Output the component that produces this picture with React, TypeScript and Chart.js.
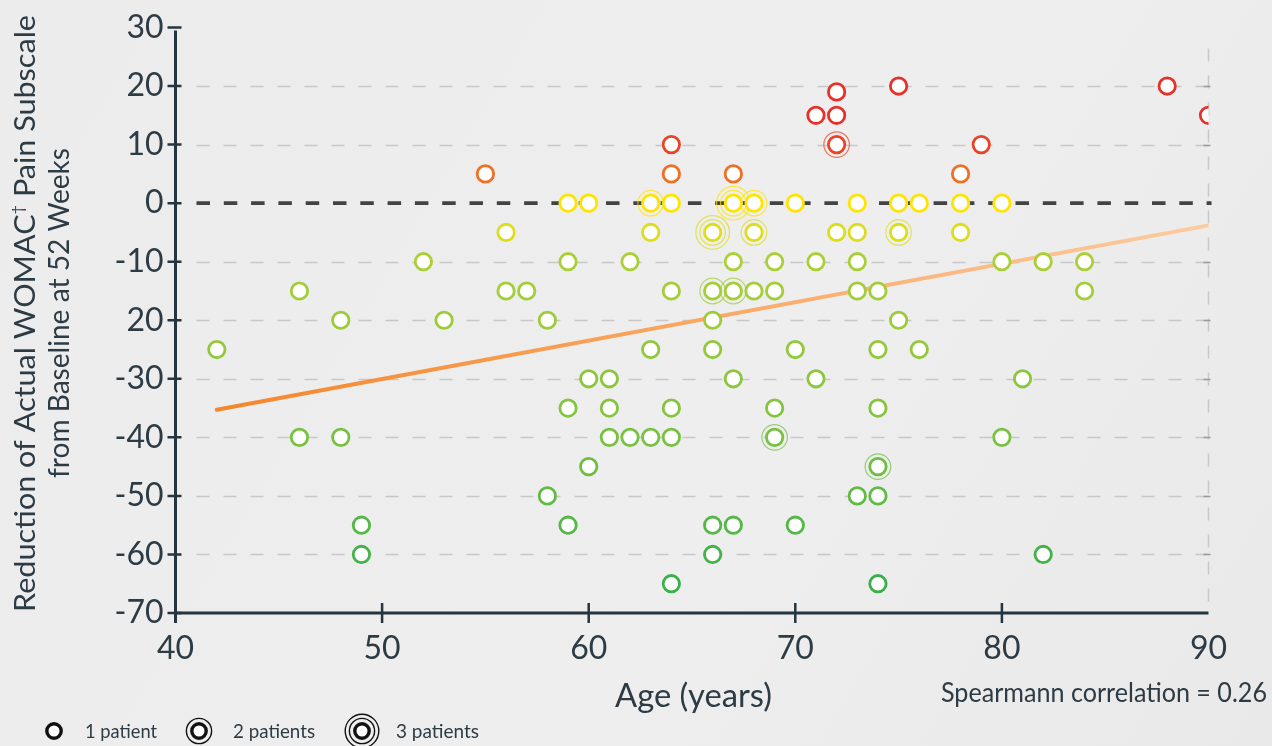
import React, { useEffect, useRef } from 'react';
import { Chart, registerables } from 'chart.js';

Chart.register(...registerables);

// ---------------- DATA ----------------
const xTickValues = [40, 50, 60, 70, 80, 90];
const yTickValues = [30, 20, 10, 0, -10, -20, -30, -40, -50, -60, -70];
const yTickLabels = ['30', '20', '10', '0', '-10', '20', '-30', '-40', '-50', '-60', '-70'];

// age (years) of each plotted marker
const ages = [
  55, 64, 64, 67, 71, 72, 72, 72, 75, 78, 79, 88, 90,
  59, 60, 63, 64, 67, 68, 70, 73, 75, 76, 78, 80,
  56, 63, 66, 68, 72, 73, 75, 78,
  52, 59, 62, 67, 69, 71, 73, 80, 82, 84,
  46, 56, 57, 64, 66, 67, 68, 69, 73, 74, 84,
  48, 53, 58, 66, 75,
  42, 63, 66, 70, 74, 76,
  60, 61, 67, 71, 81,
  59, 61, 64, 69, 74,
  46, 48, 61, 62, 63, 64, 69, 80,
  60, 74,
  58, 73, 74,
  49, 59, 66, 67, 70,
  49, 66, 82,
  64, 74,
];
// reduction of WOMAC pain subscale
const reductions = [
  5, 10, 5, 5, 15, 19, 15, 10, 20, 5, 10, 20, 15,
  0, 0, 0, 0, 0, 0, 0, 0, 0, 0, 0, 0,
  -5, -5, -5, -5, -5, -5, -5, -5,
  -10, -10, -10, -10, -10, -10, -10, -10, -10, -10,
  -15, -15, -15, -15, -15, -15, -15, -15, -15, -15, -15,
  -20, -20, -20, -20, -20,
  -25, -25, -25, -25, -25, -25,
  -30, -30, -30, -30, -30,
  -35, -35, -35, -35, -35,
  -40, -40, -40, -40, -40, -40, -40, -40,
  -45, -45,
  -50, -50, -50,
  -55, -55, -55, -55, -55,
  -60, -60, -60,
  -65, -65,
];
// number of patients at each marker
const patients = [
  1, 1, 1, 1, 1, 1, 1, 2, 1, 1, 1, 1, 1,
  1, 1, 2, 1, 3, 2, 1, 1, 1, 1, 1, 1,
  1, 1, 3, 2, 1, 1, 2, 1,
  1, 1, 1, 1, 1, 1, 1, 1, 1, 1,
  1, 1, 1, 1, 2, 2, 1, 1, 1, 1, 1,
  1, 1, 1, 1, 1,
  1, 1, 1, 1, 1, 1,
  1, 1, 1, 1, 1,
  1, 1, 1, 1, 1,
  1, 1, 1, 1, 1, 1, 2, 1,
  1, 2,
  1, 1, 1,
  1, 1, 1, 1, 1,
  1, 1, 1,
  1, 1,
];

const trendAges = [42, 90];
const trendValues = [-35.3, -3.8];

const spearmanText = 'Spearmann correlation = 0.26';
const legendLabels = ['1 patient', '2 patients', '3 patients'];

// ---------------- STYLE ----------------
const TEXT = '#2d3b45';
const AXIS = '#253540';
const FONT = 'Lato, "Open Sans", sans-serif';

const colorStops: [number, string][] = [
  [15, '#e8302a'],
  [10, '#ea4428'],
  [5, '#ef6f24'],
  [0, '#ffe400'],
  [-5, '#dcdd1c'],
  [-10, '#abcf38'],
  [-15, '#a3cd39'],
  [-20, '#9dcb3a'],
  [-25, '#93c83c'],
  [-30, '#8bc63e'],
  [-35, '#84c43f'],
  [-40, '#78c142'],
  [-45, '#6fbe43'],
  [-50, '#62bb45'],
  [-55, '#55b747'],
  [-60, '#45b249'],
  [-65, '#3aaf4a'],
];
function colorFor(v: number): string {
  for (const [t, c] of colorStops) if (v >= t) return c;
  return colorStops[colorStops.length - 1][1];
}
function hexA(hex: string, a: number) {
  const n = parseInt(hex.slice(1), 16);
  return `rgba(${(n >> 16) & 255},${(n >> 8) & 255},${n & 255},${a})`;
}

function fitText(ctx: CanvasRenderingContext2D, text: string, x: number, y: number, width: number, font: string, align: 'left' | 'center') {
  ctx.save();
  ctx.font = font;
  ctx.fillStyle = TEXT;
  ctx.textBaseline = 'alphabetic';
  ctx.textAlign = 'left';
  const w = ctx.measureText(text).width;
  const s = width / w;
  const x0 = align === 'center' ? x - width / 2 : x;
  ctx.translate(x0, y);
  ctx.scale(s, 1);
  ctx.fillText(text, 0, 0);
  ctx.restore();
}

function drawRotated(ctx: CanvasRenderingContext2D, parts: { t: string; size: number; rise: number }[], baseX: number, centerY: number, length: number) {
  ctx.save();
  ctx.translate(baseX, centerY);
  ctx.rotate(-Math.PI / 2);
  ctx.fillStyle = TEXT;
  ctx.textBaseline = 'alphabetic';
  ctx.textAlign = 'left';
  let total = 0;
  const widths = parts.map((p) => {
    ctx.font = `${p.size}px ${FONT}`;
    const w = ctx.measureText(p.t).width;
    total += w;
    return w;
  });
  ctx.scale(length / total, 1);
  let cx = -total / 2;
  parts.forEach((p, i) => {
    ctx.font = `${p.size}px ${FONT}`;
    ctx.fillText(p.t, cx, -p.rise);
    cx += widths[i];
  });
  ctx.restore();
}

const decorPlugin = {
  id: 'decor',
  beforeDraw(chart: any) {
    const { ctx, width, height } = chart;
    ctx.save();
    const g = ctx.createLinearGradient(0, 0, width, height);
    g.addColorStop(0, '#ececec');
    g.addColorStop(0.6, '#eeeeee');
    g.addColorStop(1, '#e9e9e9');
    ctx.fillStyle = g;
    ctx.fillRect(0, 0, width, height);
    ctx.restore();
  },
  beforeDatasetsDraw(chart: any) {
    const { ctx, chartArea, scales } = chart;
    const { left, right, top, bottom } = chartArea;
    const xs = scales.x;
    const ys = scales.y;
    ctx.save();
    // horizontal grid
    ctx.strokeStyle = '#c8c8c8';
    ctx.lineWidth = 1.5;
    ctx.setLineDash([13, 14]);
    for (const v of yTickValues) {
      if (v === 30 || v === 0 || v === -70) continue;
      const py = Math.round(ys.getPixelForValue(v)) + 0.5;
      ctx.beginPath();
      ctx.moveTo(left + 21, py);
      ctx.lineTo(right, py);
      ctx.stroke();
    }
    // right vertical dashed line
    const rx = xs.getPixelForValue(90);
    ctx.beginPath();
    ctx.moveTo(rx, top + 21);
    ctx.lineTo(rx, bottom);
    ctx.stroke();
    ctx.setLineDash([]);
    ctx.strokeStyle = '#9a9a9a';
    for (const v of yTickValues) {
      if (v === 30 || v === 0 || v === -70) continue;
      const py = Math.round(ys.getPixelForValue(v)) + 0.5;
      ctx.beginPath();
      ctx.moveTo(rx - 5, py);
      ctx.lineTo(rx + 2, py);
      ctx.stroke();
    }
    // zero line
    const y0 = ys.getPixelForValue(0);
    ctx.strokeStyle = '#434343';
    ctx.lineWidth = 3.8;
    ctx.setLineDash([13.5, 13.8]);
    ctx.beginPath();
    ctx.moveTo(left + 21, y0);
    ctx.lineTo(right + 3, y0);
    ctx.stroke();
    ctx.setLineDash([]);
    // multi-patient rings
    ctx.lineWidth = 1.2;
    const radii = [12.8, 16.8];
    for (let i = 0; i < ages.length; i++) {
      const n = patients[i];
      if (n < 2) continue;
      const px = xs.getPixelForValue(ages[i]);
      const py = ys.getPixelForValue(reductions[i]);
      ctx.strokeStyle = hexA(colorFor(reductions[i]), 0.7);
      for (let k = 0; k < n - 1; k++) {
        ctx.beginPath();
        ctx.arc(px, py, radii[k], 0, Math.PI * 2);
        ctx.stroke();
      }
    }
    ctx.restore();
  },
  afterDraw(chart: any) {
    const { ctx, chartArea, scales } = chart;
    const { left, right, bottom } = chartArea;
    const xs = scales.x;
    const ys = scales.y;
    ctx.save();
    ctx.strokeStyle = AXIS;
    ctx.lineWidth = 3;
    ctx.beginPath();
    ctx.moveTo(left, ys.getPixelForValue(30) + 3);
    ctx.lineTo(left, bottom + 10);
    ctx.moveTo(left - 1.5, bottom);
    ctx.lineTo(right, bottom);
    ctx.stroke();
    ctx.lineWidth = 2.5;
    ctx.beginPath();
    for (const v of yTickValues) {
      const py = ys.getPixelForValue(v);
      ctx.moveTo(left - 8, py);
      ctx.lineTo(left + 6, py);
    }
    for (const v of xTickValues) {
      if (v === 90) continue;
      const px = xs.getPixelForValue(v);
      ctx.moveTo(px, bottom - 10);
      ctx.lineTo(px, bottom + 10);
    }
    ctx.stroke();
    ctx.restore();

    // y axis title
    drawRotated(ctx, [
      { t: 'Reduction of Actual WOMAC', size: 28, rise: 0 },
      { t: '\u2020', size: 15, rise: 12 },
      { t: ' Pain Subscale', size: 28, rise: 0 },
    ], 35, 313.5, 597);
    drawRotated(ctx, [{ t: 'from Baseline at 52 Weeks', size: 28, rise: 0 }], 69, 313, 330);

    // x axis title
    fitText(ctx, 'Age (years)', 693.5, 706.5, 157, `33px ${FONT}`, 'center');
    // spearman
    fitText(ctx, spearmanText, 941, 702, 326, `27px ${FONT}`, 'left');

    // legend
    const cy = 731;
    const centers = [54, 199, 362];
    const textX = [85, 233, 396];
    const textW = [72, 82, 83];
    ctx.save();
    centers.forEach((cx, i) => {
      ctx.fillStyle = '#ffffff';
      ctx.strokeStyle = '#111111';
      ctx.lineWidth = 3.4;
      ctx.beginPath();
      ctx.arc(cx, cy, 7.2, 0, Math.PI * 2);
      ctx.fill();
      ctx.stroke();
      ctx.lineWidth = 1.4;
      const rr = [12.6, 16.8];
      for (let k = 0; k < i; k++) {
        ctx.beginPath();
        ctx.arc(cx, cy, rr[k], 0, Math.PI * 2);
        ctx.stroke();
      }
    });
    ctx.restore();
    legendLabels.forEach((t, i) => fitText(ctx, t, textX[i], 738, textW[i], `20px ${FONT}`, 'left'));
  },
};

export default function App() {
  const ref = useRef<HTMLCanvasElement | null>(null);
  useEffect(() => {
    document.body.style.margin = '0';
    const canvas = ref.current;
    if (!canvas) return;
    const chart = new Chart(canvas, {
      type: 'scatter',
      data: {
        datasets: [
          {
            type: 'scatter',
            data: ages.map((a, i) => ({ x: a, y: reductions[i] })),
            pointRadius: 8.2,
            pointBorderWidth: 2.8,
            pointBackgroundColor: '#ffffff',
            pointBorderColor: reductions.map(colorFor),
            showLine: false,
          } as any,
          {
            type: 'line',
            data: trendAges.map((a, i) => ({ x: a, y: trendValues[i] })),
            borderWidth: 4,
            pointRadius: 0,
            borderCapStyle: 'round',
            borderColor: (c: any) => {
              const ch = c.chart;
              if (!ch.chartArea) return '#f5862a';
              const xs = ch.scales.x;
              const g = ch.ctx.createLinearGradient(xs.getPixelForValue(trendAges[0]), 0, xs.getPixelForValue(trendAges[1]), 0);
              g.addColorStop(0, '#f5862a');
              g.addColorStop(1, '#fdcb9f');
              return g;
            },
            fill: false,
          } as any,
        ],
      },
      options: {
        animation: false,
        responsive: false,
        devicePixelRatio: 1,
        layout: { padding: { top: 27.5, right: 63.5, bottom: 0, left: 0 } },
        plugins: { legend: { display: false }, tooltip: { enabled: false } },
        scales: {
          x: {
            type: 'linear',
            min: 40,
            max: 90,
            afterBuildTicks: (s: any) => {
              s.ticks = xTickValues.map((v) => ({ value: v }));
            },
            afterFit: (s: any) => {
              s.height = 133;
            },
            ticks: {
              autoSkip: false,
              maxRotation: 0,
              padding: 6,
              color: TEXT,
              font: { family: FONT, size: 32 },
            },
            grid: { display: true, drawOnChartArea: false, drawTicks: true, tickLength: 10, color: 'rgba(0,0,0,0)' },
            border: { display: false },
          },
          y: {
            type: 'linear',
            min: -70,
            max: 30,
            afterBuildTicks: (s: any) => {
              s.ticks = yTickValues.slice().reverse().map((v) => ({ value: v }));
            },
            afterFit: (s: any) => {
              s.width = 175.5;
            },
            ticks: {
              autoSkip: false,
              padding: 4,
              color: TEXT,
              font: { family: FONT, size: 32 },
              callback: (v: any) => {
                const i = yTickValues.indexOf(Number(v));
                return i >= 0 ? yTickLabels[i] : '';
              },
            },
            grid: { display: true, drawOnChartArea: false, drawTicks: true, tickLength: 8, color: 'rgba(0,0,0,0)' },
            border: { display: false },
          },
        },
      },
      plugins: [decorPlugin],
    });
    return () => chart.destroy();
  }, []);
  return (
    <div style={{ width: 1272, height: 746, position: 'relative' }}>
      <canvas ref={ref} width={1272} height={746} style={{ display: 'block', width: 1272, height: 746 }} />
    </div>
  );
}
